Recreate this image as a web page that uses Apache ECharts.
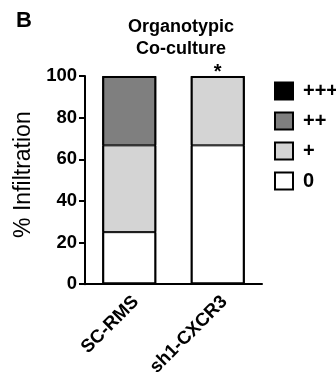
<!DOCTYPE html>
<html><head><meta charset="utf-8">
<script src="https://cdn.jsdelivr.net/npm/echarts@6/dist/echarts.min.js"></script>
<style>html,body{margin:0;padding:0;background:#fff}#c{width:336px;height:379px}</style>
</head><body><div id="c"></div>
<script>
const categories = ['SC-RMS', 'sh1-CXCR3'];
const score0 = [25, 66.7];
const scorePlus = [41.7, 33.3];
const scorePlus2 = [33.3, 0];
const scorePlus3 = [0, 0];
const yTicks = [0, 20, 40, 60, 80, 100];
const levelNames = ['0', '+', '++', '+++'];
const levelColors = ['#ffffff', '#d4d4d4', '#7f7f7f', '#000000'];

const chart = echarts.init(document.getElementById('c'), null, {renderer: 'canvas'});
const font = 'Liberation Sans, Arial, sans-serif';
const seriesData = [score0, scorePlus, scorePlus2, scorePlus3];
const totals = categories.map((c, j) => seriesData.reduce((s, arr) => s + arr[j], 0));
const series = seriesData.map((arr, i) => ({
  name: levelNames[i],
  type: 'bar',
  stack: 'total',
  barWidth: 54,
  barGap: '-100%',
  data: arr.map((v, j) => {
    if (v === 0) return null;
    return v;
  }),
  itemStyle: {color: levelColors[i], borderColor: '#000', borderWidth: 1},
  emphasis: {disabled: true}
}));
series.push({
  name: 'outline',
  type: 'bar',
  barWidth: 54,
  barGap: '-100%',
  z: 5,
  data: totals.map((v, j) => j === 1
    ? {value: v, label: {show: true, position: 'top', formatter: '*', fontSize: 20, fontWeight: 'bold', color: '#000', fontFamily: font, distance: -6}}
    : v),
  itemStyle: {color: 'rgba(0,0,0,0)', borderColor: '#000', borderWidth: 2},
  emphasis: {disabled: true},
  silent: true
});

chart.setOption({
  animation: false,
  title: [
    {text: 'B', left: 11, top: 5, textStyle: {fontFamily: font, fontSize: 22, fontWeight: 'bold', color: '#000'}},
    {text: 'Organotypic\nCo-culture', left: 176, textAlign: 'center', top: 11, textStyle: {fontFamily: font, fontSize: 18, fontWeight: 'bold', color: '#000', lineHeight: 22}}
  ],
  legend: {
    orient: 'vertical', left: 269, top: 76, itemWidth: 18, itemHeight: 17, itemGap: 10,
    data: ['+++', '++', '+', '0'], icon: 'rect',
    itemStyle: {borderColor: '#000', borderWidth: 2},
    textStyle: {fontFamily: font, fontSize: 20, fontWeight: 'bold', color: '#000', lineHeight: 17, padding: [0, 0, 0, 5]}
  },
  grid: {left: 85, right: 74, top: 76, bottom: 94, containLabel: false},
  xAxis: {
    type: 'category', data: categories,
    axisLine: {lineStyle: {color: '#000', width: 2}},
    axisTick: {show: false},
    axisLabel: {rotate: 45, margin: 8, verticalAlign: 'top', fontFamily: font, fontSize: 18.5, fontWeight: 'bold', color: '#000'}
  },
  yAxis: {
    type: 'value', min: yTicks[0], max: yTicks[yTicks.length - 1], interval: 20,
    name: '% Infiltration', nameLocation: 'middle', nameGap: 42, nameRotate: 90,
    nameTextStyle: {fontFamily: font, fontSize: 23, color: '#000', padding: [0, 0, 0, 11]},
    axisLine: {show: true, lineStyle: {color: '#000', width: 2}},
    axisTick: {show: true, length: 6, lineStyle: {color: '#000', width: 2}},
    axisLabel: {margin: 8, fontFamily: font, fontSize: 18.5, fontWeight: 'bold', color: '#000'},
    splitLine: {show: false}
  },
  series: series
});
</script></body></html>
